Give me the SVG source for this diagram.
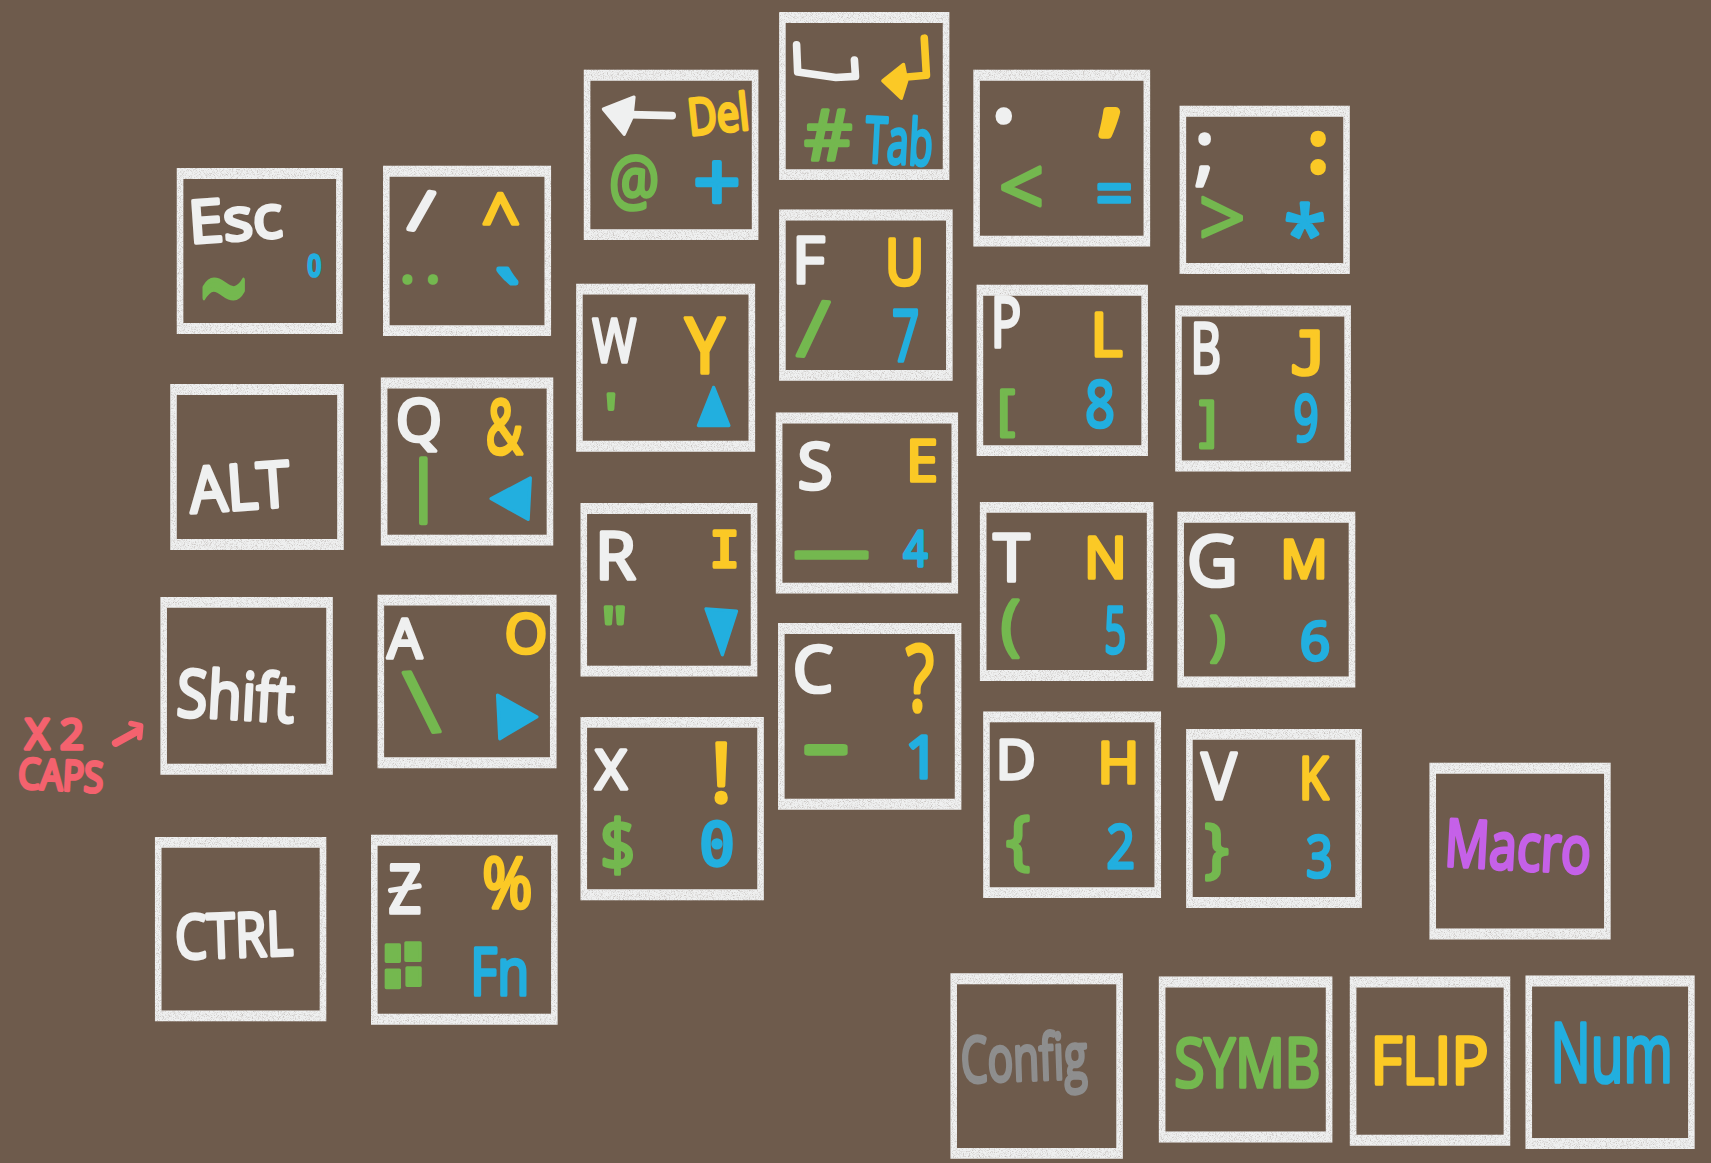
<svg xmlns="http://www.w3.org/2000/svg" width="1711" height="1163" viewBox="0 0 1711 1163">
<style>
text{font-family:"Open Sans","Noto Sans","DejaVu Sans",sans-serif;text-anchor:middle;stroke-linejoin:round;stroke-linecap:round;stroke-width:3.4}
.f{fill:#eff0f0;fill-rule:evenodd;filter:url(#grain)}
.w{fill:#eff0f0;stroke:#eff0f0}.y{fill:#fbc926;stroke:#fbc926}.g{fill:#74b84f;stroke:#74b84f}.b{fill:#22afdf;stroke:#22afdf}
.r{fill:#f4626e;stroke:#f4626e}.p{fill:#c561e8;stroke:#c561e8}.a{fill:#8e8e8e;stroke:#8e8e8e}
path.s{stroke-width:3;stroke-linejoin:round}
path.ln{fill:none;stroke-width:7;stroke-linecap:round;stroke-linejoin:round}
.m{font-family:"DejaVu Sans Mono",monospace}
</style>
<defs>
<filter id="grain" x="0" y="0" width="100%" height="100%">
<feTurbulence type="fractalNoise" baseFrequency="1.3" numOctaves="1" seed="4" result="n"/>
<feColorMatrix in="n" type="matrix" values="0 0 0 0 0.55 0 0 0 0 0.52 0 0 0 0 0.5 3 0 0 0 -1.4"/>
<feComposite in2="SourceGraphic" operator="in" result="s"/>
<feMerge><feMergeNode in="SourceGraphic"/><feMergeNode in="s"/></feMerge>
</filter>
</defs>
<rect width="1711" height="1163" fill="#6e5b4c"/>
<g transform="scale(1.0912)">
<g id="key-esc"><path class="f" d="M162 154H314V306H162ZM168 164V296H308V164Z"/><text class="w" x="217" y="220" font-size="54" textLength="86" lengthAdjust="spacingAndGlyphs" transform="rotate(-4 217 220)">Esc</text><text class="g" x="0" y="0" font-size="86" style="stroke-width:3" transform="translate(205 311) scale(1 1.5)" textLength="44" lengthAdjust="spacingAndGlyphs">~</text><text class="b" x="288" y="253" font-size="26" textLength="12" lengthAdjust="spacingAndGlyphs">0</text></g>
<g id="key-slash"><path class="f" d="M351 152H505V308H351ZM357 162V298H499V162Z"/><text class="w" x="386" y="211" font-size="50" style="stroke-width:5" transform="rotate(9 386 194)">/</text><text class="y" x="459" y="222" font-size="62">^</text><text class="g" x="392" y="258" font-size="36" style="letter-spacing:14px;stroke-width:5">..</text><text class="b" x="465" y="308" font-size="80" style="stroke-width:4.5">`</text></g>
<g id="key-alt"><path class="f" d="M156 352H315V504H156ZM162 362V494H309V362Z"/><text class="w" x="221" y="467" font-size="58" textLength="92" lengthAdjust="spacingAndGlyphs" transform="rotate(-4 221 467)">ALT</text></g>
<g id="key-q"><path class="f" d="M349 346H507V500H349ZM355 356V490H501V356Z"/><text class="w" x="384" y="404" font-size="54">Q</text><text class="y" x="462" y="416" font-size="68" textLength="34" lengthAdjust="spacingAndGlyphs">&amp;</text><text class="g" x="388" y="466" font-size="58" style="stroke-width:4">|</text><path class="b s" d="M450 457L486 438L484 476Z" stroke="#22afdf"/></g>
<g id="key-w"><path class="f" d="M528 260H692V414H528ZM534 270V404H686V270Z"/><text class="w" x="563" y="332" font-size="56" textLength="40" lengthAdjust="spacingAndGlyphs">W</text><text class="y" x="646" y="342" font-size="70" textLength="36" lengthAdjust="spacingAndGlyphs">Y</text><text class="g" x="560" y="400" font-size="54">'</text><path class="b s" d="M654 355L640 390L668 390Z" stroke="#22afdf"/></g>
<g id="key-bksp"><path class="f" d="M535 64H695V220H535ZM541 74V210H689V74Z"/><path class="w ln" d="M616 106L578 105"/><path class="w s" d="M553 100L581 89L579 108L572 123Z"/><text class="y" x="660" y="121" font-size="46" textLength="56" lengthAdjust="spacingAndGlyphs" transform="rotate(-6 660 121)">Del</text><text class="g" x="581" y="187" font-size="62" textLength="46" lengthAdjust="spacingAndGlyphs">@</text><text class="b" x="657" y="193" font-size="76" style="stroke-width:4">+</text></g>
<g id="key-space"><path class="f" d="M714 11H870V165H714ZM720 21V155H864V21Z"/><path class="w ln" d="M730 41L731 66L766 71L784 70L783 55"/><path class="y ln" d="M847 35L849 69L826 71"/><path class="y s" d="M809 74L828 59L831 74L826 90Z"/><text class="g" x="759" y="147" font-size="64" textLength="44" lengthAdjust="spacingAndGlyphs">#</text><text class="b" x="823" y="150" font-size="58" textLength="62" lengthAdjust="spacingAndGlyphs" transform="rotate(3 823 150)">Tab</text></g>
<g id="key-period"><path class="f" d="M892 64H1054V226H892ZM898 74V216H1048V74Z"/><text class="w" x="920" y="110" font-size="70" style="stroke-width:7">.</text><text class="y" x="1018" y="112" font-size="90" style="stroke-width:7">,</text><text class="g" x="936" y="197" font-size="72">&lt;</text><text class="b" x="1021" y="198" font-size="60">=</text></g>
<g id="key-semicolon"><path class="f" d="M1081 97H1237V251H1081ZM1087 107V241H1231V107Z"/><text class="w" x="1104" y="161" font-size="70">;</text><text class="y" x="1208" y="157" font-size="62" style="stroke-width:7">:</text><text class="g" x="1120" y="226" font-size="76" style="stroke-width:2.5">&gt;</text><text class="b" x="1196" y="240" font-size="70">*</text></g>
<g id="key-f"><path class="f" d="M714 192H873V349H714ZM720 202V339H867V202Z"/><text class="w" x="741" y="259" font-size="58">F</text><text class="y" x="829" y="261" font-size="58" textLength="36" lengthAdjust="spacingAndGlyphs">U</text><text class="g" x="745" y="327" font-size="72" transform="rotate(5 745 305)">/</text><text class="b" x="830" y="331" font-size="66" textLength="25" lengthAdjust="spacingAndGlyphs">7</text></g>
<g id="key-p"><path class="f" d="M895 261H1052V418H895ZM901 271V408H1046V271Z"/><text class="w" x="922" y="318" font-size="64" textLength="28" lengthAdjust="spacingAndGlyphs">P</text><text class="y" x="1014" y="326" font-size="56">L</text><text class="g" x="922" y="392" font-size="48">[</text><text class="b" x="1008" y="391" font-size="58" textLength="27" lengthAdjust="spacingAndGlyphs">8</text></g>
<g id="key-b"><path class="f" d="M1077 280H1238V432H1077ZM1083 290V422H1232V290Z"/><text class="w" x="1105" y="342" font-size="64" textLength="28" lengthAdjust="spacingAndGlyphs">B</text><text class="y m" x="1199" y="343" font-size="54">J</text><text class="g" x="1107" y="402" font-size="48">]</text><text class="b" x="1197" y="404" font-size="58" textLength="23" lengthAdjust="spacingAndGlyphs">9</text></g>
<g id="key-r"><path class="f" d="M532 461H694V620H532ZM538 471V610H688V471Z"/><text class="w" x="564" y="531" font-size="60">R</text><text class="y m" x="664" y="520" font-size="46">I</text><text class="g" x="563" y="598" font-size="58" textLength="24" lengthAdjust="spacingAndGlyphs">"</text><path class="b s" d="M647 558L675 560L662 600Z" stroke="#22afdf"/></g>
<g id="key-s"><path class="f" d="M711 378H878V544H711ZM717 388V534H872V388Z"/><text class="w" x="747" y="448" font-size="58">S</text><text class="y" x="845" y="441" font-size="52">E</text><text class="g" x="762" y="498" font-size="90" textLength="62" lengthAdjust="spacingAndGlyphs">_</text><text class="b" x="839" y="519" font-size="46" textLength="22" lengthAdjust="spacingAndGlyphs">4</text></g>
<g id="key-t"><path class="f" d="M898 460H1057V624H898ZM904 470V614H1051V470Z"/><text class="w" x="927" y="532" font-size="60">T</text><text class="y" x="1013" y="530" font-size="52">N</text><text class="g" x="926" y="593" font-size="60">(</text><text class="b" x="1022" y="598" font-size="58" textLength="20" lengthAdjust="spacingAndGlyphs">5</text></g>
<g id="key-g"><path class="f" d="M1079 469H1242V630H1079ZM1085 479V620H1236V479Z"/><text class="w" x="1111" y="537" font-size="64">G</text><text class="y" x="1195" y="530" font-size="48">M</text><text class="g" x="1116" y="599" font-size="48">)</text><text class="b" x="1205" y="605" font-size="48">6</text></g>
<g id="key-shift"><path class="f" d="M147 547H305V710H147ZM153 557V700H299V557Z"/><text class="w" x="215" y="659" font-size="60" textLength="108" lengthAdjust="spacingAndGlyphs" transform="rotate(3 215 659)">Shift</text></g>
<g id="key-a"><path class="f" d="M346 545H510V704H346ZM352 555V694H504V555Z"/><text class="w" x="371" y="603" font-size="50">A</text><text class="y" x="482" y="598" font-size="50">O</text><text class="g" x="387" y="672" font-size="80" transform="rotate(-6 387 648)">\</text><path class="b s" d="M456 637L492 657L458 677Z" stroke="#22afdf"/></g>
<g id="key-ctrl"><path class="f" d="M142 767H299V936H142ZM148 777V926H293V777Z"/><text class="w" x="215" y="877" font-size="56" textLength="108" lengthAdjust="spacingAndGlyphs" transform="rotate(-2 215 877)">CTRL</text></g>
<g id="key-z"><path class="f" d="M340 765H511V939H340ZM346 775V929H505V775Z"/><text class="w" x="371" y="837" font-size="62" textLength="30" lengthAdjust="spacingAndGlyphs">Z</text><path class="w ln" style="stroke-width:5" d="M358 816L384 812"/><text class="y" x="465" y="832" font-size="64" textLength="46" lengthAdjust="spacingAndGlyphs">%</text><path class="g s" d="M354 866h12v15h-12ZM372 864h13v16h-13ZM354 889h12v16h-12ZM373 887h12v16h-12Z" stroke="#74b84f"/><text class="b" x="458" y="912" font-size="60" textLength="54" lengthAdjust="spacingAndGlyphs">Fn</text></g>
<g id="key-x"><path class="f" d="M532 657H700V825H532ZM538 667V815H694V667Z"/><text class="w" x="560" y="723" font-size="50">X</text><text class="y" x="661" y="735" font-size="76">!</text><text class="g" x="566" y="797" font-size="64" textLength="32" lengthAdjust="spacingAndGlyphs">$</text><text class="b m" x="657" y="793" font-size="54">0</text></g>
<g id="key-c"><path class="f" d="M713 571H881V742H713ZM719 581V732H875V581Z"/><text class="w" x="745" y="634" font-size="58">C</text><text class="y" x="843" y="652" font-size="84" textLength="26" lengthAdjust="spacingAndGlyphs">?</text><text class="g" x="757" y="708" font-size="80" style="stroke-width:5" textLength="42" lengthAdjust="spacingAndGlyphs">-</text><text class="b" x="845" y="713" font-size="54">1</text></g>
<g id="key-d"><path class="f" d="M901 652H1064V823H901ZM907 662V813H1058V662Z"/><text class="w" x="931" y="714" font-size="50">D</text><text class="y" x="1025" y="718" font-size="52">H</text><text class="g" x="933" y="790" font-size="58">{</text><text class="b" x="1027" y="795" font-size="56" textLength="26" lengthAdjust="spacingAndGlyphs">2</text></g>
<g id="key-v"><path class="f" d="M1087 668H1248V832H1087ZM1093 678V822H1242V678Z"/><text class="w" x="1117" y="732" font-size="58" textLength="32" lengthAdjust="spacingAndGlyphs">V</text><text class="y" x="1204" y="732" font-size="54" textLength="27" lengthAdjust="spacingAndGlyphs">K</text><text class="g" x="1115" y="797" font-size="58">}</text><text class="b" x="1209" y="804" font-size="52" textLength="24" lengthAdjust="spacingAndGlyphs">3</text></g>
<g id="key-macro"><path class="f" d="M1310 699H1476V861H1310ZM1316 709V851H1470V709Z"/><text class="p" x="1390" y="797" font-size="60" textLength="134" lengthAdjust="spacingAndGlyphs" transform="rotate(3 1390 797)">Macro</text></g>
<g id="key-config"><path class="f" d="M871 892H1029V1062H871ZM877 902V1052H1023V902Z"/><text class="a" x="939" y="990" font-size="58" textLength="116" lengthAdjust="spacingAndGlyphs" transform="rotate(-2 939 990)">Config</text></g>
<g id="key-symb"><path class="f" d="M1062 895H1221V1047H1062ZM1068 905V1037H1215V905Z"/><text class="g" x="1143" y="996" font-size="62" textLength="134" lengthAdjust="spacingAndGlyphs">SYMB</text></g>
<g id="key-flip"><path class="f" d="M1237 895H1384V1050H1237ZM1243 905V1040H1378V905Z"/><text class="y" x="1310" y="993" font-size="60" textLength="108" lengthAdjust="spacingAndGlyphs">FLIP</text></g>
<g id="key-num"><path class="f" d="M1398 894H1553V1053H1398ZM1404 904V1043H1547V904Z"/><text class="b" x="1477" y="992" font-size="76" textLength="112" lengthAdjust="spacingAndGlyphs">Num</text></g>
<g id="note-caps"><text class="r" x="50" y="686" font-size="38">X 2</text><text class="r" x="55" y="724" font-size="38" textLength="78" lengthAdjust="spacingAndGlyphs" transform="rotate(3 55 724)">CAPS</text></g>
<g id="connectors"><path class="r ln" d="M106 681L126 670"/><path class="r ln" style="stroke-width:5" d="M120 663L129 665L128 676"/></g>
</g>
</svg>
